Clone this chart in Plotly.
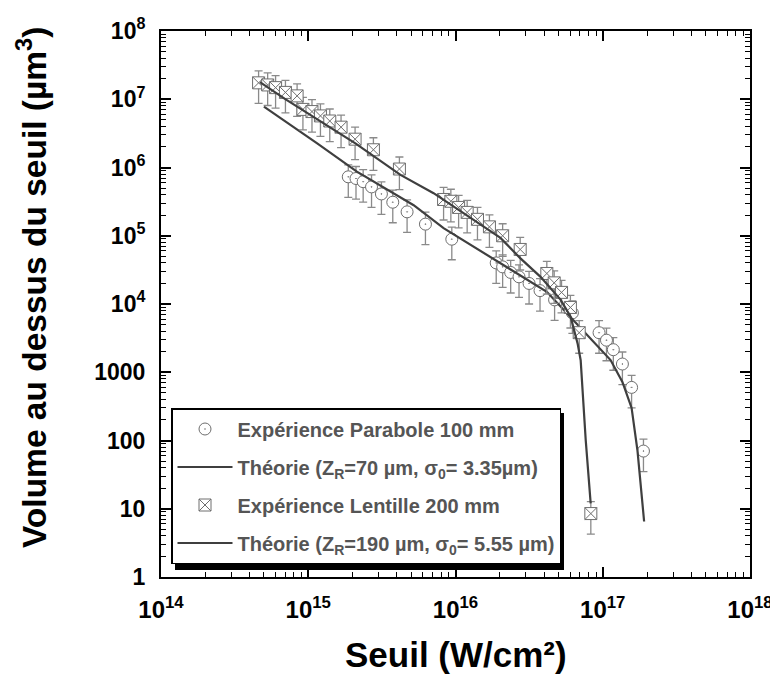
import plotly.graph_objects as go

# ---- Data ----
parab_x = [1.87e15, 2.11e15, 2.36e15, 2.69e15, 3.14e15, 3.75e15, 4.69e15, 6.25e15, 9.44e15,
           1.89e16, 2.09e16, 2.37e16, 2.70e16, 3.16e16, 3.75e16, 4.71e16, 6.22e16,
           9.44e16, 1.06e17, 1.18e17, 1.36e17, 1.57e17, 1.89e17]
parab_y = [7.3e5, 6.9e5, 6.2e5, 5.2e5, 4.1e5, 3.1e5, 2.24e5, 1.48e5, 8.9e4,
           4.0e4, 3.5e4, 2.9e4, 2.5e4, 2.0e4, 1.57e4, 1.15e4, 7.4e3,
           3.8e3, 2.95e3, 2.14e3, 1.32e3, 6.0e2, 70]

lent_x = [4.6e14, 5.3e14, 6.0e14, 7.0e14, 8.4e14, 9.2e14, 1.06e15, 1.21e15, 1.40e15, 1.67e15,
          2.08e15, 2.77e15, 4.16e15, 8.3e15, 9.3e15, 1.05e16, 1.20e16, 1.41e16, 1.70e16,
          2.09e16, 2.75e16, 4.17e16, 4.68e16, 5.25e16, 6.03e16, 6.92e16, 8.3e16]
lent_y = [1.74e7, 1.62e7, 1.48e7, 1.26e7, 1.12e7, 7.1e6, 6.6e6, 5.7e6, 4.8e6, 3.9e6,
          2.6e6, 1.82e6, 9.5e5, 3.4e5, 3.2e5, 2.6e5, 2.2e5, 1.74e5, 1.35e5,
          1.0e5, 6.3e4, 2.8e4, 2.04e4, 1.48e4, 8.9e3, 3.8e3, 8.5]

err_percent = 50  # symmetric relative error bars (%)

th1_x = [5.0e14, 1.15e15, 2.14e15, 5.2e15, 8.3e15, 1.73e16, 4.17e16, 5.75e16, 7.87e16,
         1.13e17, 1.36e17, 1.57e17, 1.72e17, 1.91e17]
th1_y = [7.8e6, 2.26e6, 8.7e5, 2.8e5, 1.29e5, 4.9e4, 1.51e4, 7.2e3, 3.5e3,
         1.51e3, 7.2e2, 3.0e2, 72, 6.5]

th2_x = [4.7e14, 6.9e14, 2.09e15, 4.23e15, 7.1e15, 2.02e16, 2.75e16, 3.78e16, 5.18e16,
         6.05e16, 6.76e16, 7.08e16, 7.66e16, 8.28e16]
th2_y = [1.78e7, 1.02e7, 2.26e6, 7.8e5, 4.2e5, 9.3e4, 4.7e4, 2.5e4, 1.15e4,
         6.5e3, 2.6e3, 1.5e3, 102, 12]

names = ["Expérience Parabole 100 mm",
         "Théorie (Z<sub>R</sub>=70 µm, σ<sub>0</sub>= 3.35µm)",
         "Expérience Lentille 200 mm",
         "Théorie (Z<sub>R</sub>=190 µm, σ<sub>0</sub>= 5.55 µm)"]

x_tickvals = [1e14, 1e15, 1e16, 1e17, 1e18]
x_ticktext = ["10<sup>14</sup>", "10<sup>15</sup>", "10<sup>16</sup>", "10<sup>17</sup>", "10<sup>18</sup>"]
y_tickvals = [1, 10, 100, 1000, 1e4, 1e5, 1e6, 1e7, 1e8]
y_ticktext = ["1", "10", "100", "1000", "10<sup>4</sup>", "10<sup>5</sup>", "10<sup>6</sup>",
              "10<sup>7</sup>", "10<sup>8</sup>"]
x_title = "Seuil (W/cm²)"
y_title = "Volume au dessus du seuil (µm<sup>3</sup>)"

x_minor = [k * 10.0 ** n for n in range(14, 18) for k in range(2, 10)]
y_minor = [k * 10.0 ** n for n in range(0, 8) for k in range(2, 10)]

FONT = "Liberation Sans, Arial, sans-serif"
LINE_C = "#3f3f3f"
MARK_C = "#6e6e6e"
ERR = dict(type="percent", value=err_percent, color="#8a8a8a", thickness=1.3, width=4)

fig = go.Figure()
fig.add_trace(go.Scatter(x=parab_x, y=parab_y, mode="markers", name=names[0], legendgroup="a",
                         marker=dict(symbol="circle-dot", size=12, color="white",
                                     line=dict(color=MARK_C, width=1)),
                         error_y=ERR))
fig.add_trace(go.Scatter(x=th1_x, y=th1_y, mode="lines", name=names[1], legendgroup="b",
                         line=dict(color=LINE_C, width=2.2)))
fig.add_trace(go.Scatter(x=lent_x, y=lent_y, mode="markers", name=names[2], legendgroup="c",
                         marker=dict(symbol="square-x", size=12, color="white",
                                     line=dict(color=MARK_C, width=1)),
                         error_y=ERR))
fig.add_trace(go.Scatter(x=th2_x, y=th2_y, mode="lines", name=names[3], legendgroup="d",
                         line=dict(color=LINE_C, width=2.2)))

# page body has an 8px margin: figure is placed at (8, 8) in the window
OFF = 8
W, H = 778 - OFF, 675 - OFF
L, R, T, B = 161 - OFF, 28, 31 - OFF, 98
pw, ph = W - L - R, H - T - B

def px(x):  # window pixel -> paper fraction
    return (x - OFF - L) / pw

def py(y):
    return (H - B - (y - OFF)) / ph

axis_common = dict(
    type="log", showline=True, linecolor="black", linewidth=2, mirror="allticks",
    ticks="inside", ticklen=10, tickwidth=1.5, tickcolor="black",
    showgrid=False, zeroline=False, automargin=False,
)

fig.update_xaxes(**axis_common, range=[14, 18], tickmode="array", tickvals=x_tickvals, ticktext=x_ticktext,
                 tickfont=dict(family=FONT, size=24, color="black", weight="bold"),
                 minor=dict(tickmode="array", tickvals=x_minor, ticks="inside", ticklen=5,
                            tickwidth=1.2, tickcolor="black", showgrid=False),
                 ticklabelstandoff=10)
fig.update_yaxes(**axis_common, range=[0, 8], tickmode="array", tickvals=y_tickvals, ticktext=y_ticktext,
                 tickfont=dict(family=FONT, size=23, color="black", weight="bold"),
                 minor=dict(tickmode="array", tickvals=y_minor, ticks="inside", ticklen=5,
                            tickwidth=1.2, tickcolor="black", showgrid=False),
                 ticklabelstandoff=9)

fig.add_annotation(text=x_title, xref="paper", yref="paper", x=px(456), y=py(654),
                   xanchor="center", yanchor="middle", showarrow=False,
                   font=dict(family=FONT, size=35, color="black", weight="bold"))
fig.add_annotation(text=y_title, xref="paper", yref="paper", x=px(32), y=py(288),
                   xanchor="center", yanchor="middle", showarrow=False, textangle=-90,
                   font=dict(family=FONT, size=33.5, color="black", weight="bold"))

# legend shadow
fig.add_shape(type="rect", xref="paper", yref="paper",
              x0=px(175), x1=px(564), y0=py(570), y1=py(413),
              fillcolor="black", line=dict(width=0), layer="above")

fig.update_layout(
    width=W, height=H,
    margin=dict(l=L, r=R, t=T, b=B, pad=0),
    paper_bgcolor="white", plot_bgcolor="white",
    showlegend=True,
    legend=dict(x=px(171), y=py(408), xanchor="left", yanchor="top",
                bgcolor="white", bordercolor="black", borderwidth=1.5,
                font=dict(family=FONT, size=20, color="#555555", weight="bold"),
                itemwidth=55, tracegroupgap=9, traceorder="grouped"),
)

fig.write_html("out.html")
